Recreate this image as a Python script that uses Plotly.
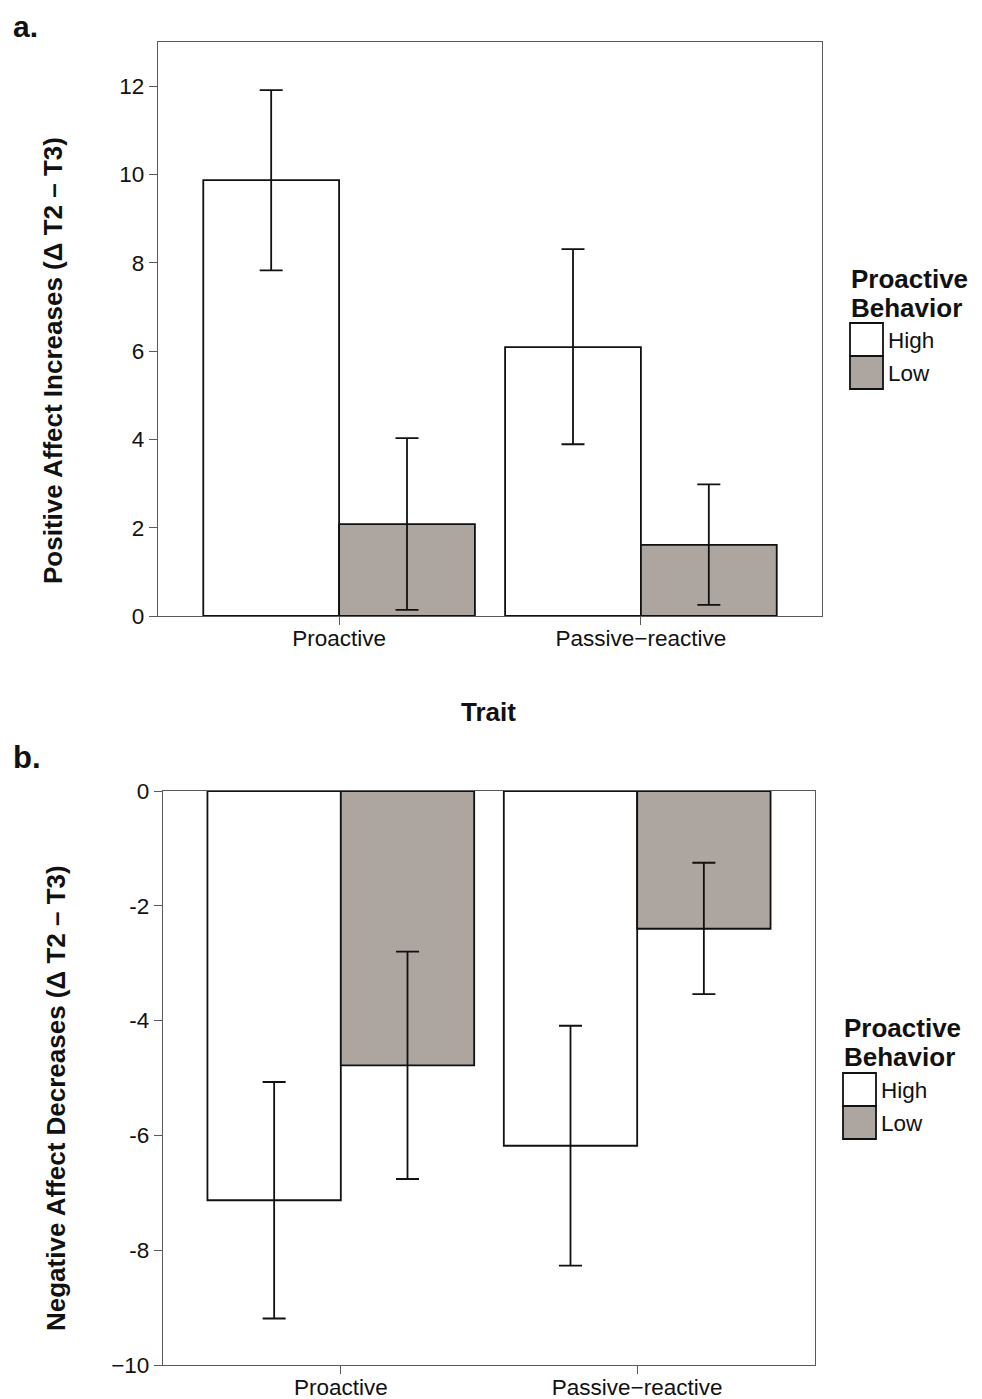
import plotly.graph_objects as go

W, H = 982, 1399
OFF = 8  # default page body margin of the written HTML

traits = ["Proactive", "Passive−reactive"]
groups = ["High", "Low"]
group_colors = ["#ffffff", "#ada59f"]

# Panel a: Positive affect increases
pa_mean = {"High": [9.87, 6.09], "Low": [2.08, 1.61]}
pa_upper = {"High": [11.91, 8.31], "Low": [4.03, 2.98]}
pa_lower = {"High": [7.83, 3.89], "Low": [0.14, 0.25]}

# Panel b: Negative affect decreases
pb_mean = {"High": [-7.13, -6.18], "Low": [-4.78, -2.40]}
pb_upper = {"High": [-5.07, -4.09], "Low": [-2.80, -1.25]}
pb_lower = {"High": [-9.19, -8.27], "Low": [-6.76, -3.54]}

pa_ticks = [0, 2, 4, 6, 8, 10, 12]
pb_ticks = [0, -2, -4, -6, -8, -10]
pb_ticktext = ["0", "-2", "-4", "-6", "-8", "−10"]

FONT = "Liberation Sans, Arial, sans-serif"
TXT = "#111111"
AX = "#5a5a5a"

fig = go.Figure()

def add_panel(mean, upper, lower, xa, ya):
    for g, c in zip(groups, group_colors):
        m = mean[g]
        ep = [u - v for u, v in zip(upper[g], m)]
        em = [v - l for v, l in zip(m, lower[g])]
        fig.add_trace(go.Bar(
            x=traits, y=m, name=g, marker=dict(color=c, line=dict(color="#111111", width=1.8)),
            error_y=dict(type="data", symmetric=False, array=ep, arrayminus=em,
                         color="#111111", thickness=1.8, width=11.5),
            xaxis=xa, yaxis=ya, showlegend=False, offsetgroup=g,
        ))

add_panel(pa_mean, pa_upper, pa_lower, "x", "y")
add_panel(pb_mean, pb_upper, pb_lower, "x2", "y2")

def px(x):
    return (x - OFF) / W

def py(y):
    return 1 - (y - OFF) / H

axis_common = dict(showline=True, mirror=True, linecolor=AX, linewidth=1.4,
                   ticks="outside", ticklen=8, tickwidth=1.4, tickcolor=AX,
                   showgrid=False, zeroline=False, automargin=False,
                   tickfont=dict(family=FONT, size=22.5, color=TXT))

fig.update_layout(
    width=W, height=H, margin=dict(l=0, r=0, t=0, b=0, autoexpand=False),
    paper_bgcolor="white", plot_bgcolor="white",
    barmode="group", bargap=0.1, bargroupgap=0,
    xaxis=dict(domain=[px(158), px(822)], anchor="y", range=[-0.6, 1.6],
               ticklabelstandoff=-6, **axis_common),
    yaxis=dict(domain=[py(616), py(42)], anchor="x", range=[0, 13],
               tickvals=pa_ticks, **axis_common),
    xaxis2=dict(domain=[px(163), px(815)], anchor="y2", range=[-0.6, 1.6],
                ticklabelstandoff=-6, **axis_common),
    yaxis2=dict(domain=[py(1365), py(791)], anchor="x2", range=[-10, 0],
                tickvals=pb_ticks, ticktext=pb_ticktext, **axis_common),
)

ann = []
def text(x, y, s, size, bold=False, angle=0, xanchor="center", yanchor="middle", ypaper=None):
    ann.append(dict(x=px(x), y=(py(y) if ypaper is None else ypaper), xref="paper", yref="paper",
                    text=(f"<b>{s}</b>" if bold else s),
                    showarrow=False, textangle=angle, xanchor=xanchor, yanchor=yanchor,
                    font=dict(family=FONT, size=size, color=TXT)))

text(11, 0, "a.", 30, True, xanchor="left", yanchor="top", ypaper=1.0)
text(11, 757, "b.", 31, True, xanchor="left")
text(53, 361, "Positive Affect Increases (Δ T2 – T3)", 26, True, -90)
text(56, 1098, "Negative Affect Decreases (Δ T2 – T3)", 26, True, -90)
text(488, 712, "Trait", 26, True)

shapes = []
def legend(x0, ytitle, ybox):
    text(x0 - 1, ytitle, "Proactive", 26, True, xanchor="left")
    text(x0 - 1, ytitle + 29, "Behavior", 26, True, xanchor="left")
    for i, (g, c) in enumerate(zip(groups, group_colors)):
        y0 = ybox + 33 * i
        shapes.append(dict(type="rect", xref="paper", yref="paper",
                           x0=px(x0), x1=px(x0 + 33), y0=py(y0 + 33), y1=py(y0),
                           fillcolor=c, line=dict(color="#111111", width=1.8)))
        text(x0 + 36, y0 + 17, g, 22.5, xanchor="left")

legend(850, 279, 323)
legend(843, 1028, 1073)

fig.update_layout(annotations=ann, shapes=shapes)
fig.write_html("out.html")
